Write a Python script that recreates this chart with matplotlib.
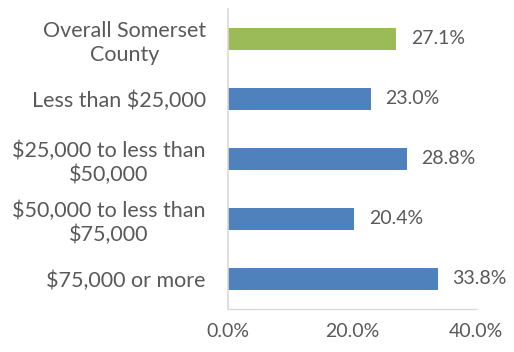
import matplotlib
matplotlib.use("Agg")
import matplotlib.pyplot as plt

plt.rcParams['font.family'] = ['Lato', 'DejaVu Sans']

categories = ['Overall Somerset\nCounty', 'Less than $25,000',
              '$25,000 to less than\n$50,000', '$50,000 to less than\n$75,000',
              '$75,000 or more']
values = [27.1, 23.0, 28.8, 20.4, 33.8]
colors = ['#9BBB59', '#4F81BD', '#4F81BD', '#4F81BD', '#4F81BD']
xticks = [0, 20, 40]

text_color = '#595959'

fig = plt.figure(figsize=(5.14, 3.52), dpi=100)
ax = fig.add_axes([228 / 514, 1 - 309 / 352, 248 / 514, 300 / 352])

pos = list(range(len(categories)))
ax.barh(pos, values, height=0.36, color=colors)
ax.set_ylim(len(categories) - 0.5, -0.5)
ax.set_xlim(0, 40)

# percentage labels to the right of each bar
for y, v in zip(pos, values):
    ax.text(v + 2.4, y, f'{v:.1f}%', va='center', ha='left',
            fontsize=14, color=text_color)

ax.set_yticks(pos)
ax.set_yticklabels(categories, fontsize=15.5, color=text_color,
                   multialignment='center', linespacing=1.25)
ax.set_xticks(xticks)
ax.set_xticklabels([f'{t:.1f}%' for t in xticks], fontsize=14, color=text_color)
ax.tick_params(axis='both', length=0)
ax.tick_params(axis='y', pad=16)
ax.tick_params(axis='x', pad=10)

for side in ['top', 'right']:
    ax.spines[side].set_visible(False)
ax.spines['left'].set_color('#D9D9D9')
ax.spines['bottom'].set_color('#D9D9D9')
ax.spines['left'].set_linewidth(1.2)
ax.spines['bottom'].set_linewidth(1.0)

fig.savefig('out.png', dpi=100)
